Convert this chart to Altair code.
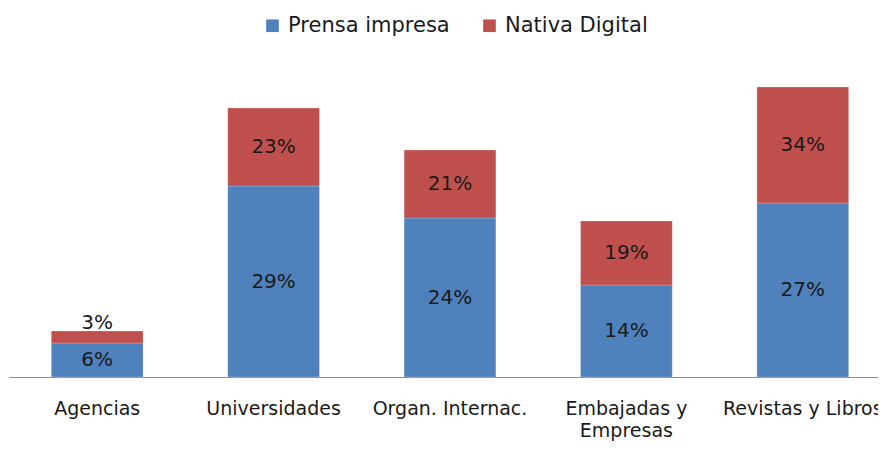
import altair as alt
import pandas as pd

categories = ["Agencias", "Universidades", "Organ. Internac.", "Embajadas y Empresas", "Revistas y Libros"]
series = ["Prensa impresa", "Nativa Digital"]
prensa_values = [34, 191, 159, 92, 174]
nativa_values = [12, 78, 68, 64, 116]
prensa_labels = ["6%", "29%", "24%", "14%", "27%"]
nativa_labels = ["3%", "23%", "21%", "19%", "34%"]

rows = []
for i, c in enumerate(categories):
    b = prensa_values[i]
    r = nativa_values[i]
    rows.append({"cat": c, "series": series[0], "order": 0, "value": b,
                 "label": prensa_labels[i], "ty": b / 2, "small": False})
    small = r < 20
    rows.append({"cat": c, "series": series[1], "order": 1, "value": r,
                 "label": nativa_labels[i], "ty": (b + r) if small else b + r / 2, "small": small})
df = pd.DataFrame(rows)

FONT = "DejaVu Sans"

xscale = alt.Scale(domain=categories, range=[1, 883], paddingInner=0.48, paddingOuter=0.24)

x = alt.X("cat:N", sort=categories, title=None, scale=xscale,
          axis=alt.Axis(labelAngle=0, ticks=False, domainColor="#8c8c8c", domainWidth=1,
                        labelFontSize=19, labelFont=FONT, labelColor="#1a1a1a",
                        labelPadding=22, labelLineHeight=22, labelOverlap=False,
                        labelExpr="datum.label == 'Embajadas y Empresas' ? ['Embajadas y', 'Empresas'] : datum.label"))

yscale = alt.Scale(domain=[0, 369], nice=False, zero=True)

bars = alt.Chart(df).mark_bar(stroke="white", strokeWidth=0.5, strokeOpacity=0.4).encode(
    x=x,
    y=alt.Y("value:Q", stack="zero", scale=yscale, axis=None),
    order=alt.Order("order:Q"),
    color=alt.Color("series:N", sort=series,
                    scale=alt.Scale(domain=series, range=["#4F81BD", "#C0504D"]),
                    legend=alt.Legend(title=None, orient="none", legendX=254, legendY=7,
                                      direction="horizontal", symbolType="square",
                                      symbolSize=160, symbolStrokeWidth=0,
                                      labelFontSize=21, labelFont=FONT, labelColor="#1a1a1a",
                                      labelLimit=400,
                                      columnPadding=29, labelOffset=5)),
)

text_mid = alt.Chart(df).transform_filter("!datum.small").mark_text(
    fontSize=20, font=FONT, color="#1a1a1a", baseline="middle"
).encode(x=alt.X("cat:N", sort=categories, scale=xscale), y=alt.Y("ty:Q", scale=yscale), text="label:N")

text_top = alt.Chart(df).transform_filter("datum.small").mark_text(
    fontSize=20, font=FONT, color="#1a1a1a", baseline="alphabetic", dy=-2
).encode(x=alt.X("cat:N", sort=categories, scale=xscale), y=alt.Y("ty:Q", scale=yscale), text="label:N")

chart = alt.layer(bars, text_mid, text_top).properties(
    width=870, height=369,
    autosize=alt.AutoSizeParams(type="none"),
    padding={"left": 0, "top": 0, "right": 0, "bottom": 64},
).configure_view(stroke=None)

chart.save("out.html", embed_options={"renderer": "svg", "actions": False})
